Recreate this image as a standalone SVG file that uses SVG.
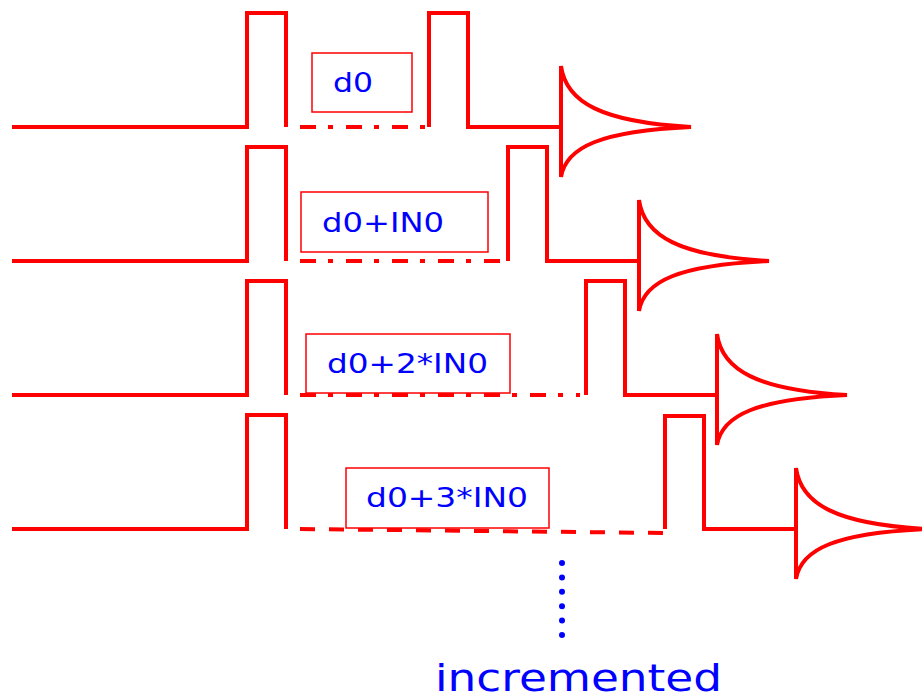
<svg xmlns="http://www.w3.org/2000/svg" width="922" height="697" viewBox="0 0 922 697">
  <style>
    .seq { fill: none; stroke: #ff0000; stroke-width: 4; stroke-linejoin: miter; }
    .dd { fill: none; stroke: #ff0000; stroke-width: 4; stroke-dasharray: 16 12 5 13; }
    .dash { fill: none; stroke: #ff0000; stroke-width: 4; stroke-dasharray: 15 14; }
    .box { fill: #ffffff; stroke: #ff0000; stroke-width: 1.5; }
    .lbl { font-family: "DejaVu Sans", "Liberation Sans", sans-serif; fill: #0000ff; font-size: 27px; }
    .dot { fill: #0000ff; }
  </style>
  <defs>
    <!-- decaying signal envelope, origin at baseline where it starts -->
    <path id="fid" d="M0,-61 C5,-25 40,-5 130,0 C40,4 5,20 0,50 Z"/>
  </defs>

  <!-- pulse sequences and delay lines -->
  <g id="connectors">
    <!-- row 1 -->
    <path class="seq" d="M12,127 H247 V13 H286 V127"/>
    <path class="dd" d="M300,127 H428"/>
    <path class="seq" d="M429,127 V13 H468 V127 H561"/>
    <!-- row 2 -->
    <path class="seq" d="M12,261 H247 V147 H286 V261"/>
    <path class="dd" d="M300,261 H507"/>
    <path class="seq" d="M508,261 V147 H547 V261 H639"/>
    <!-- row 3 -->
    <path class="seq" d="M12,395 H247 V281 H286 V395"/>
    <path class="dd" d="M300,395 H580"/>
    <path class="seq" d="M586,395 V281 H625 V395 H717"/>
    <!-- row 4 -->
    <path class="seq" d="M12,529 H247 V415 H286 V529"/>
    <path class="dash" d="M300,529 L664,533"/>
    <path class="seq" d="M665,529 V416 H704 V529 H796"/>
  </g>

  <g id="fid1"><use href="#fid" class="seq" transform="translate(561,127)"/></g>
  <g id="fid2"><use href="#fid" class="seq" transform="translate(639,261)"/></g>
  <g id="fid3"><use href="#fid" class="seq" transform="translate(717,395)"/></g>
  <g id="fid4"><use href="#fid" class="seq" transform="translate(796,529)"/></g>

  <g id="delay1">
    <rect class="box" x="312" y="53" width="100" height="59"/>
    <text class="lbl" x="333" y="92" textLength="40" lengthAdjust="spacingAndGlyphs">d0</text>
  </g>
  <g id="delay2">
    <rect class="box" x="301" y="192" width="187" height="60"/>
    <text class="lbl" x="322" y="232" textLength="122" lengthAdjust="spacingAndGlyphs">d0+IN0</text>
  </g>
  <g id="delay3">
    <rect class="box" x="306" y="334" width="204" height="59"/>
    <text class="lbl" x="327" y="373" textLength="161" lengthAdjust="spacingAndGlyphs">d0+2*IN0</text>
  </g>
  <g id="delay4">
    <rect class="box" x="346" y="468" width="203" height="60"/>
    <text class="lbl" x="366" y="507" textLength="162" lengthAdjust="spacingAndGlyphs">d0+3*IN0</text>
  </g>

  <g id="increment">
    <circle class="dot" cx="562" cy="563" r="3"/>
    <circle class="dot" cx="562" cy="577.4" r="3"/>
    <circle class="dot" cx="562" cy="591.8" r="3"/>
    <circle class="dot" cx="562" cy="606.2" r="3"/>
    <circle class="dot" cx="562" cy="620.6" r="3"/>
    <circle class="dot" cx="562" cy="635" r="3"/>
    <text class="lbl" x="435" y="691" style="font-size:38px" textLength="287" lengthAdjust="spacingAndGlyphs">incremented</text>
  </g>
</svg>
